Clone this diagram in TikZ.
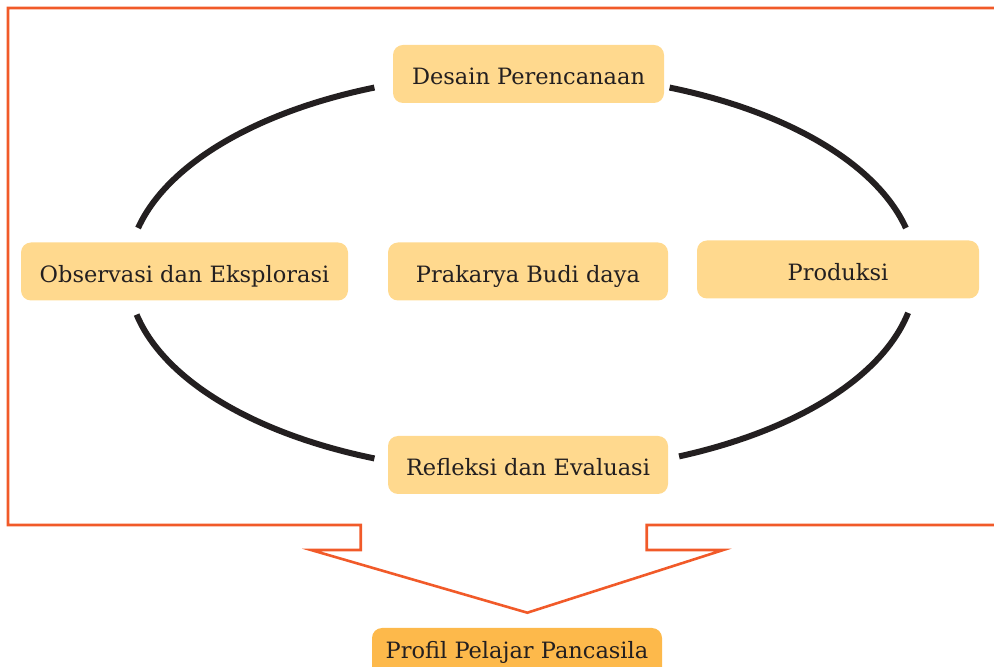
\documentclass[tikz,border=0pt]{standalone}
\usepackage{fontspec}
\setmainfont{DejaVu Serif}
\usepackage[rgb]{xcolor}
\usepackage{tikz}

\definecolor{framered}{HTML}{F15A29}
\definecolor{boxfill}{HTML}{FFD98E}
\definecolor{goalfill}{HTML}{FDB94B}
\definecolor{inkdark}{HTML}{231F20}

\tikzset{
  stagebox/.style={fill=boxfill, rounded corners=10pt, minimum height=58pt,
    inner sep=0pt, text height=22pt, text depth=0pt,
    text=inkdark, font=\fontsize{22.5}{27}\selectfont},
  goalbox/.style={stagebox, fill=goalfill, text height=10pt, text depth=6pt},
  cycleline/.style={inkdark, line width=6pt},
}

\begin{document}
\begin{tikzpicture}[x=1pt, y=1pt]

\useasboundingbox (0,0) rectangle (994,667);

% Outer frame with arrow notch
\draw[framered, line width=2.6pt] (995,659) -- (8,659) -- (8,142) -- (360.7,142)
  -- (360.7,117) -- (311,117) -- (527.3,54.3) -- (723.3,117) -- (646.7,117)
  -- (646.7,142) -- (995,142);

%
% Cycle (pieces of one ellipse)
%
\draw[cycleline] (522,394) ++(167:394 and 200) arc[start angle=167, end angle=112, x radius=394, y radius=200];
\draw[cycleline] (522,394) ++(68:394 and 200) arc[start angle=68, end angle=13, x radius=394, y radius=200];
\draw[cycleline] (522,394) ++(192:394 and 200) arc[start angle=192, end angle=248, x radius=394, y radius=200];
\draw[cycleline] (522,394) ++(293.5:394 and 200) arc[start angle=293.5, end angle=348.5, x radius=394, y radius=200];

%
% Stages
%
\path
(528.5,593) node [stagebox, minimum width=271pt] (desain) {Desain Perencanaan};

\path
(184.5,395.5) node [stagebox, minimum width=327pt] (observasi) {Observasi dan Eksplorasi};

\path
(528,395.5) node [stagebox, minimum width=280pt] (prakarya) {Prakarya Budi daya};

\path
(838,397.5) node [stagebox, minimum width=282pt] (produksi) {Produksi};

\path
(528,202) node [stagebox, minimum width=280pt] (refleksi) {Refleksi dan Evaluasi};

% Goal
\path
(517,10) node [goalbox, minimum width=290pt] (profil) {Profil Pelajar Pancasila};

\end{tikzpicture}
\end{document}
